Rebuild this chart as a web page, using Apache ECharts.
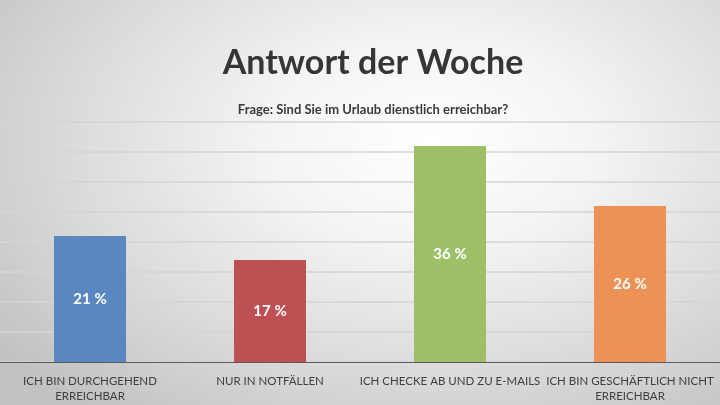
<!DOCTYPE html>
<html lang="de">
<head>
    <meta charset="UTF-8">
    <title>Antwort der Woche</title>
    <style>
        html, body { margin: 0; padding: 0; }
        #main {
            width: 720px;
            height: 405px;
            background: radial-gradient(ellipse 75% 85% at 60% 35%, #ffffff 0%, #f4f4f4 30%, #dcdcdc 65%, #c2c2c2 100%);
        }
    </style>
</head>
<body>
    <div id="main"></div>
    <script src="https://cdn.jsdelivr.net/npm/echarts@6/dist/echarts.min.js"></script>
    <script>
        // Daten
        var categories = ['ICH BIN DURCHGEHEND\nERREICHBAR', 'NUR IN NOTFÄLLEN', 'ICH CHECKE AB UND ZU E-MAILS', 'ICH BIN GESCHÄFTLICH NICHT\nERREICHBAR'];
        var values = [21, 17, 36, 26];
        var barColors = ['#5a87bf', '#be5053', '#9dbf67', '#ed9256'];

        var font = 'Lato, "Open Sans", sans-serif';
        var myChart = echarts.init(document.getElementById('main'));
        var option = {
            backgroundColor: 'transparent',
            title: [
                {
                    text: 'Antwort der Woche',
                    left: 368,
                    top: 41,
                    textAlign: 'center',
                    textStyle: { fontFamily: font, fontSize: 34, fontWeight: 'bold', color: '#363636' }
                },
                {
                    text: 'Frage: Sind Sie im Urlaub dienstlich erreichbar?',
                    left: 368,
                    top: 98,
                    textAlign: 'center',
                    textStyle: { fontFamily: font, fontSize: 13, fontWeight: 'bold', color: '#3a3a3a' }
                }
            ],
            grid: { left: -3, right: -3, top: 122, bottom: 43 },
            xAxis: {
                type: 'category',
                data: categories,
                axisLine: { lineStyle: { color: '#5a5a5a', width: 1 } },
                axisTick: { show: false },
                axisLabel: {
                    interval: 0,
                    margin: 12,
                    fontFamily: font,
                    fontSize: 11.5,
                    lineHeight: 15,
                    color: '#3f3f3f'
                }
            },
            yAxis: {
                type: 'value',
                min: 0,
                max: 40,
                interval: 5,
                axisLine: { show: false },
                axisTick: { show: false },
                axisLabel: { show: false },
                splitLine: { lineStyle: { color: '#d4d4d4', width: 1.5 } }
            },
            series: [
                {
                    type: 'bar',
                    barWidth: '40%',
                    data: values.map(function (v, i) {
                        return { value: v, itemStyle: { color: barColors[i] } };
                    }),
                    label: {
                        show: true,
                        position: 'inside',
                        formatter: '{c} %',
                        fontFamily: font,
                        fontSize: 15,
                        fontWeight: 'bold',
                        color: '#ffffff'
                    }
                }
            ]
        };
        myChart.setOption(option);
    </script>
</body>
</html>
